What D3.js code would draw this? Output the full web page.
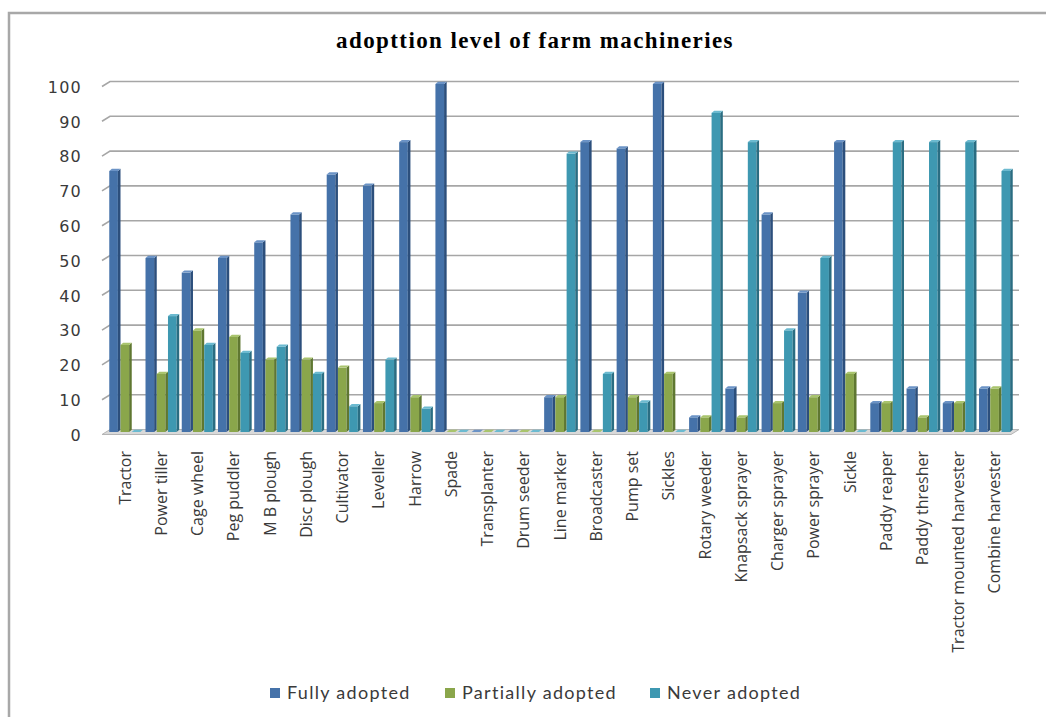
<!DOCTYPE html>
<html>
<head>
<meta charset="utf-8">
<script src="https://cdn.jsdelivr.net/npm/d3@7/dist/d3.min.js"></script>
<style>
  html, body { margin: 0; padding: 0; background: #fff; }
  svg { display: block; }
</style>
</head>
<body>
<svg id="chart" width="1046" height="717"></svg>
<script>
const categories = ["Tractor","Power tiller","Cage wheel","Peg puddler","M B plough","Disc plough","Cultivator","Leveller","Harrow","Spade","Transplanter","Drum seeder","Line marker","Broadcaster","Pump set","Sickles","Rotary weeder","Knapsack sprayer","Charger sprayer","Power sprayer","Sickle","Paddy reaper","Paddy thresher","Tractor mounted harvester","Combine harvester"];
const seriesNames = ["Fully adopted","Partially adopted","Never adopted"];
const fullyAdopted =     [75, 50, 45.8, 50, 54.5, 62.5, 74, 70.8, 83.3, 100, 0, 0, 10, 83.3, 81.5, 100, 4.2, 12.5, 62.5, 40, 83.3, 8.3, 12.5, 8.3, 12.5];
const partiallyAdopted = [25, 16.7, 29.2, 27.3, 20.8, 20.8, 18.5, 8.3, 10, 0, 0, 0, 10, 0, 10, 16.7, 4.2, 4.2, 8.3, 10, 16.7, 8.3, 4.2, 8.3, 12.5];
const neverAdopted =     [0, 33.3, 25, 22.7, 24.5, 16.7, 7.4, 20.8, 6.7, 0, 0, 0, 80, 16.7, 8.5, 0, 91.7, 83.3, 29.2, 50, 0, 83.3, 83.3, 83.3, 75];
const yTicks = [0,10,20,30,40,50,60,70,80,90,100];
const chartTitle = "adopttion level of farm machineries";

const series = [fullyAdopted, partiallyAdopted, neverAdopted];
const frontColors = ["#4572a9", "#8aa64b", "#3e98b1"];
const sideColors  = ["#2c4f7c", "#5f7731", "#2a6d82"];
const topColors   = ["#6b93c6", "#a9c46d", "#6cbad0"];

const svg = d3.select("#chart");

// outer frame
svg.append("rect").attr("x", 9).attr("y", 13).attr("width", 1100).attr("height", 800)
  .attr("fill", "none").attr("stroke", "#a8a8a8").attr("stroke-width", 2.5);

// title
svg.append("text").attr("x", 535).attr("y", 48).attr("text-anchor", "middle")
  .attr("font-family", "Liberation Serif, serif").attr("font-weight", "bold")
  .attr("font-size", 23).attr("letter-spacing", 1.4).attr("fill", "#000").text(chartTitle);

const x = d3.scaleBand().domain(categories).range([108, 1014]).paddingInner(0.07).paddingOuter(0.035);
const xs = d3.scaleBand().domain([0,1,2]).range([0, x.bandwidth()]);
const y = d3.scaleLinear().domain([0, 100]).range([432, 84]);

const depthX = 2.6, depthY = 2.2;
const wallX = 8, wallY = 5;

// floor
const fx0 = 102, fx1 = 1019;
svg.append("polygon")
  .attr("points", [[fx0, y(0)+2.5], [fx0+wallX, y(0)-2.5], [fx1, y(0)-2.5], [fx1-wallX, y(0)+2.5]].map(p => p.join(",")).join(" "))
  .attr("fill", "#d9d9d9").attr("stroke", "#b5b5b5").attr("stroke-width", 1);

// gridlines (back wall with side slant)
const grid = svg.append("g");
yTicks.filter(t => t > 0).forEach(t => {
  const yy = y(t);
  grid.append("path")
    .attr("d", `M${fx0},${yy+2.5} L${fx0+wallX},${yy-2.5} H${fx1}`)
    .attr("fill", "none").attr("stroke", "#a6a6a6").attr("stroke-width", 1.6);
});

// y tick labels
const yAxis = svg.append("g");
yTicks.forEach(t => {
  yAxis.append("text").attr("x", 82).attr("y", y(t) + 3).attr("dy", "0.36em")
    .attr("text-anchor", "end").attr("font-family", "DejaVu Sans, Verdana, sans-serif")
    .attr("font-size", 16).attr("letter-spacing", 1.2).attr("fill", "#3a3a3a").text(t);
});

// bars
const bars = svg.append("g");
categories.forEach((c, i) => {
  series.forEach((s, k) => {
    const v = s[i];
    const x0 = x(c) + xs(k);
    const w = xs.bandwidth() - depthX;
    const yt = y(v), yb = y(0);
    const g = bars.append("g");
    if (v > 0) {
      g.append("rect").attr("x", x0).attr("y", yt).attr("width", w).attr("height", yb - yt)
        .attr("fill", frontColors[k]);
      g.append("polygon")
        .attr("points", [[x0+w, yt], [x0+w+depthX, yt-depthY], [x0+w+depthX, yb-depthY], [x0+w, yb]].map(p => p.join(",")).join(" "))
        .attr("fill", sideColors[k]);
    }
    g.append("polygon")
      .attr("points", [[x0, yt], [x0+depthX, yt-depthY], [x0+w+depthX, yt-depthY], [x0+w, yt]].map(p => p.join(",")).join(" "))
      .attr("fill", topColors[k]);
  });
});

// category labels
const xAxis = svg.append("g");
categories.forEach(c => {
  const cx = x(c) + x.bandwidth() / 2 - 1;
  xAxis.append("text")
    .attr("transform", `translate(${cx},451) rotate(-90)`)
    .attr("dy", "0.35em").attr("text-anchor", "end")
    .attr("font-family", "Open Sans, sans-serif").attr("font-size", 16)
    .attr("fill", "#3a3a3a").text(c);
});

// legend
const legendItems = [
  {name: seriesNames[0], x: 270},
  {name: seriesNames[1], x: 445},
  {name: seriesNames[2], x: 650}
];
const legend = svg.append("g");
legendItems.forEach((d, k) => {
  legend.append("rect").attr("x", d.x).attr("y", 688).attr("width", 10).attr("height", 10)
    .attr("fill", frontColors[k]);
  legend.append("text").attr("x", d.x + 17).attr("y", 693).attr("dy", "0.36em")
    .attr("font-family", "Lato, sans-serif").attr("font-size", 18).attr("letter-spacing", 1.3)
    .attr("fill", "#3a3a3a").text(d.name);
});
</script>
</body>
</html>
